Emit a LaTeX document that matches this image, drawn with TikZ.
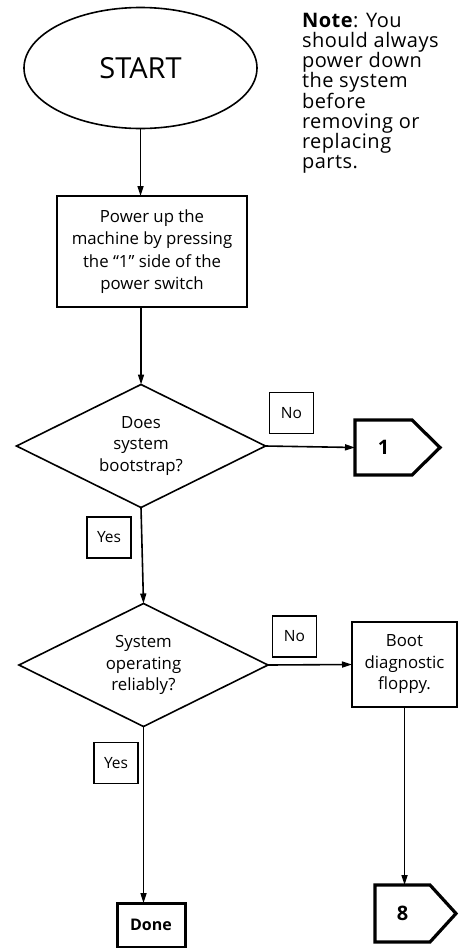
\documentclass[tikz,border=0pt]{standalone}
\usepackage{fontspec}
\setmainfont{Open Sans}
\usetikzlibrary{shapes.geometric,arrows.meta}
\begin{document}
\begin{tikzpicture}[x=1pt,y=-1pt,
  every node/.style={inner sep=0pt,outer sep=0pt},
  arr/.style={line width=1.6pt,-{Triangle[length=10pt,width=6pt]}},
  box/.style={draw,line width=1.6pt,rectangle,align=center},
  boldline/.style={line width=3.2pt,line join=miter},
  bodytext/.style={font=\fontsize{16.8}{22.5}\selectfont},
  dec/.style={draw,line width=1.6pt,diamond,aspect=2.02,minimum width=249pt,minimum height=123pt,align=center,font=\fontsize{16.8}{21.5}\selectfont},
  lab/.style={box,minimum width=44pt,minimum height=41pt,font=\fontsize{15.5}{17}\selectfont},
  conn/.style={rectangle,font=\fontsize{20}{22}\selectfont\bfseries},
]
\useasboundingbox (0,0) rectangle (458,948);
\fill[white] (0,0) rectangle (458,948);

\node[draw,ellipse,line width=1.6pt,minimum width=233pt,minimum height=121pt,font=\fontsize{29}{30}\selectfont] (start) at (140.5,68) {START};

\node[align=left,anchor=north west,font=\fontsize{20}{20}\selectfont\addfontfeature{LetterSpace=2.5}] (note) at (302,13)
  {\textbf{Note}: You\\should always\\power down\\the system\\before\\removing or\\replacing\\parts.};

\node[box,bodytext,minimum width=190pt,minimum height=111pt] (power) at (152,251.5)
  {Power up the\\machine by pressing\\the ``1'' side of the\\power switch};

\node[dec] (d1) at (141,446) {Does\\system\\bootstrap?};
\node[lab] (no1) at (291.5,413) {No};
\node[conn,minimum width=57pt,minimum height=55pt] (p1) at (383.5,447.5) {1};
\draw[boldline] (p1.north west) -- (p1.north east) -- ([xshift=28pt]p1.east) -- (p1.south east) -- (p1.south west) -- cycle;
\node[lab] (yes1) at (109,537.5) {Yes};

\node[dec] (d2) at (143.5,665) {System\\operating\\reliably?};
\node[lab] (no2) at (294.5,636.5) {No};
\node[box,font=\fontsize{16.8}{21.5}\selectfont,minimum width=105pt,minimum height=85pt] (boot) at (404.5,664.5)
  {Boot\\diagnostic\\floppy.};
\node[conn,minimum width=55pt,minimum height=57pt] (p8) at (402.5,913.5) {8};
\draw[boldline] (p8.north west) -- (p8.north east) -- ([xshift=26pt]p8.east) -- (p8.south east) -- (p8.south west) -- cycle;
\node[lab] (yes2) at (116,763) {Yes};
\node[draw,line width=3pt,rectangle,minimum width=68pt,minimum height=44pt,font=\fontsize{16}{18}\selectfont\bfseries] (done) at (151,925) {Done};

\draw[arr] (start.south) -- (start.south |- power.north);
\draw[arr] (d1.north |- power.south) -- (d1.north);
\draw[arr] (d1.east) -- (p1.west);
\draw[arr] (d1.south) -- (d2.north);
\draw[arr] (d2.east) -- (boot.west);
\draw[arr] (boot.south) -- (boot.south |- p8.north);
\draw[arr] (d2.south) -- (d2.south |- done.north);
\end{tikzpicture}
\end{document}
